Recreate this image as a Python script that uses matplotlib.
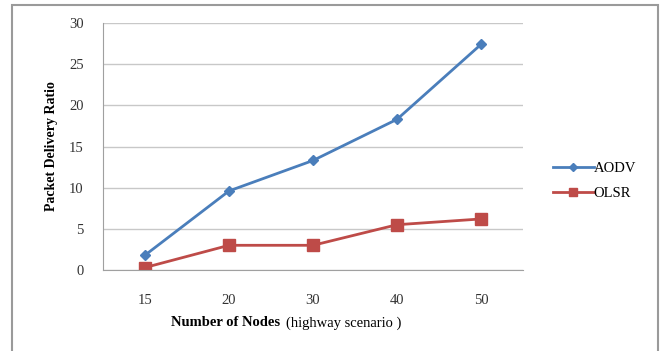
import matplotlib
matplotlib.use("Agg")
import matplotlib.pyplot as plt
from matplotlib.patches import Rectangle

nodes = ["15", "20", "30", "40", "50"]
aodv = [1.8, 9.6, 13.3, 18.3, 27.4]
olsr = [0.3, 3.0, 3.0, 5.5, 6.2]
yticks = [0, 5, 10, 15, 20, 25, 30]

plt.rcParams['font.family'] = ['Liberation Serif', 'DejaVu Serif']

fig = plt.figure(figsize=(6.63, 3.51), dpi=100)
ax = fig.add_axes([103/663, 1 - 270/351, 420/663, 247/351])

# outer chart border (like an Excel chart area)
fig.patches.append(Rectangle((12/663, -0.01), 646/663, 1 - 5/351 + 0.01,
                             transform=fig.transFigure, fill=False,
                             edgecolor="#9a9a9a", linewidth=1.5))

x = range(len(nodes))
ax.plot(x, aodv, color="#4A7EBB", marker="D", markersize=5, linewidth=2, label="AODV")
ax.plot(x, olsr, color="#BE4B48", marker="s", markersize=8, linewidth=2, label="OLSR")

ax.set_xlim(-0.5, len(nodes) - 0.5)
ax.set_ylim(0, 30)
ax.set_yticks(yticks)
ax.set_xticks(list(x))
ax.set_xticklabels(nodes)
ax.grid(axis="y", color="#c8c8c8", linewidth=1)
ax.set_axisbelow(True)
for s in ["top", "right"]:
    ax.spines[s].set_visible(False)
ax.spines["left"].set_color("#a0a0a0")
ax.spines["bottom"].set_color("#a0a0a0")
ax.tick_params(axis="both", length=0, labelsize=10.5, colors="#333333")
ax.tick_params(axis="y", pad=14)
ax.tick_params(axis="x", pad=17)

ax.set_ylabel("Packet Delivery Ratio", fontsize=10, fontweight="bold", labelpad=8)

fig.text(0.422, 1 - 323/351, "Number of Nodes", fontsize=10.5, fontweight="bold", ha="right", va="center")
fig.text(0.431, 1 - 323/351, "(highway scenario )", fontsize=10.5, ha="left", va="center")

ax.legend(loc="center left", bbox_to_anchor=(1.04, 0.36), frameon=False, fontsize=10.5,
          handlelength=2.8, handletextpad=0.0, labelspacing=0.85, markerscale=0.75)

fig.savefig("out.png", dpi=100)
